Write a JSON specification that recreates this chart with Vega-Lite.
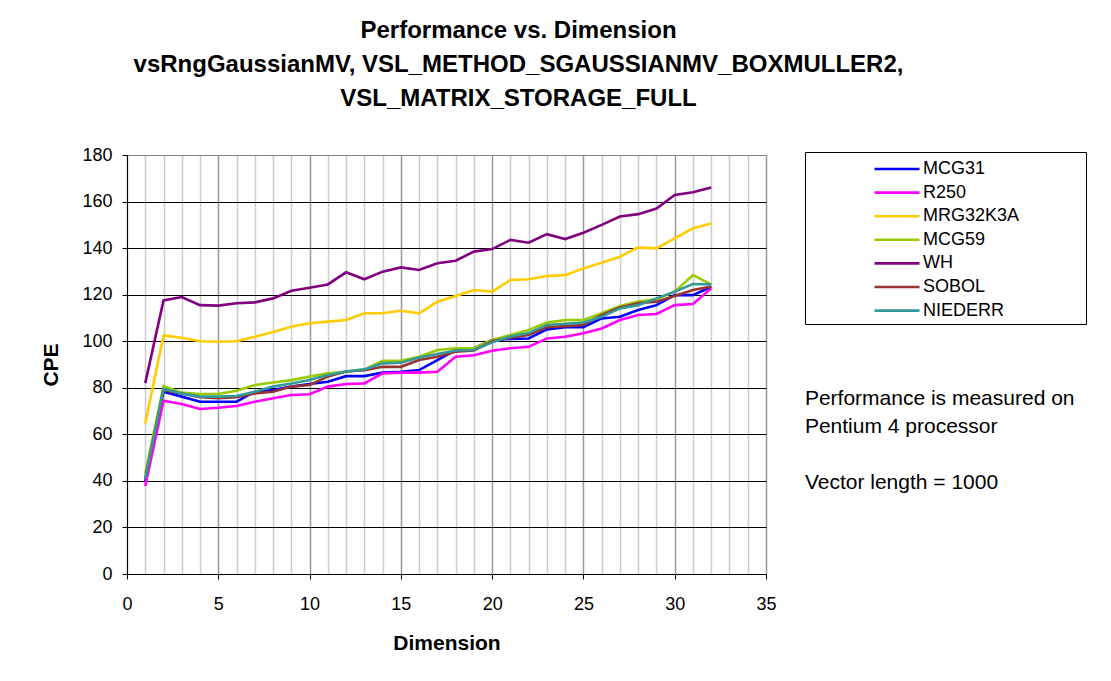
{
  "$schema": "https://vega.github.io/schema/vega-lite/v6.json",
  "width": 639,
  "height": 419,
  "autosize": {"type": "none"},
  "padding": {"left": 127, "top": 155, "right": 345, "bottom": 107},
  "background": "white",
  "title": {
    "text": ["Performance vs. Dimension", "vsRngGaussianMV, VSL_METHOD_SGAUSSIANMV_BOXMULLER2,", "VSL_MATRIX_STORAGE_FULL"],
    "font": "Liberation Sans", "fontSize": 24, "fontWeight": "bold", "lineHeight": 34,
    "anchor": "middle", "dx": 72, "offset": 35, "color": "black"
  },
  "config": {
    "font": "Liberation Sans",
    "view": {"stroke": "#808080", "strokeWidth": 1},
    "legend": {
      "orient": "none", "legendX": 678, "legendY": -3,
      "strokeColor": "black", "fillColor": "white", "padding": 4,
      "symbolType": "M-2,0H2", "symbolSize": 506, "symbolOffset": 75,
      "labelFontSize": 18, "labelOffset": 13, "rowPadding": 1.6, "labelColor": "black",
      "labelFont": "Liberation Sans",
      "titleOrient": "right", "titlePadding": 63, "titleFontSize": 18
    }
  },
  "data": {"values": [
    {"dim": 1, "MCG31": 39.7, "R250": 37.8, "MRG32K3A": 64.7, "MCG59": 43.2, "WH": 82, "SOBOL": 41, "NIEDERR": 41},
    {"dim": 2, "MCG31": 78.3, "R250": 74.4, "MRG32K3A": 102.5, "MCG59": 80.8, "WH": 117.5, "SOBOL": 79, "NIEDERR": 79.5},
    {"dim": 3, "MCG31": 76.2, "R250": 73, "MRG32K3A": 101.5, "MCG59": 77.9, "WH": 119, "SOBOL": 77.5, "NIEDERR": 77.5},
    {"dim": 4, "MCG31": 74, "R250": 70.9, "MRG32K3A": 100, "MCG59": 77.3, "WH": 115.5, "SOBOL": 76, "NIEDERR": 76.2},
    {"dim": 5, "MCG31": 74, "R250": 71.4, "MRG32K3A": 99.8, "MCG59": 77.3, "WH": 115.3, "SOBOL": 75.5, "NIEDERR": 76.2},
    {"dim": 6, "MCG31": 74, "R250": 72.2, "MRG32K3A": 100, "MCG59": 78.7, "WH": 116.3, "SOBOL": 76, "NIEDERR": 76.5},
    {"dim": 7, "MCG31": 78.3, "R250": 74, "MRG32K3A": 101.9, "MCG59": 81.2, "WH": 116.7, "SOBOL": 77.6, "NIEDERR": 78.3},
    {"dim": 8, "MCG31": 79, "R250": 75.5, "MRG32K3A": 104, "MCG59": 82.3, "WH": 118.4, "SOBOL": 78.3, "NIEDERR": 80.5},
    {"dim": 9, "MCG31": 80.5, "R250": 76.9, "MRG32K3A": 106.2, "MCG59": 83.3, "WH": 121.7, "SOBOL": 80.5, "NIEDERR": 81.8},
    {"dim": 10, "MCG31": 81.6, "R250": 77.2, "MRG32K3A": 107.7, "MCG59": 84.8, "WH": 123, "SOBOL": 81.2, "NIEDERR": 83.3},
    {"dim": 11, "MCG31": 82.6, "R250": 80.5, "MRG32K3A": 108.4, "MCG59": 86.2, "WH": 124.4, "SOBOL": 84.8, "NIEDERR": 85.5},
    {"dim": 12, "MCG31": 85, "R250": 81.6, "MRG32K3A": 109.1, "MCG59": 86.9, "WH": 129.6, "SOBOL": 87, "NIEDERR": 87},
    {"dim": 13, "MCG31": 85, "R250": 81.9, "MRG32K3A": 112, "MCG59": 87.9, "WH": 126.6, "SOBOL": 87.5, "NIEDERR": 87.9},
    {"dim": 14, "MCG31": 86.5, "R250": 86.2, "MRG32K3A": 112, "MCG59": 91.6, "WH": 129.9, "SOBOL": 89, "NIEDERR": 90.5},
    {"dim": 15, "MCG31": 86.9, "R250": 86.5, "MRG32K3A": 113.1, "MCG59": 91.6, "WH": 131.7, "SOBOL": 89, "NIEDERR": 90.8},
    {"dim": 16, "MCG31": 87.6, "R250": 86.5, "MRG32K3A": 112, "MCG59": 93.3, "WH": 130.6, "SOBOL": 91.9, "NIEDERR": 93},
    {"dim": 17, "MCG31": 91.9, "R250": 86.9, "MRG32K3A": 117, "MCG59": 96.2, "WH": 133.5, "SOBOL": 93.3, "NIEDERR": 94.5},
    {"dim": 18, "MCG31": 96.2, "R250": 93.3, "MRG32K3A": 119.4, "MCG59": 97, "WH": 134.6, "SOBOL": 95.5, "NIEDERR": 96},
    {"dim": 19, "MCG31": 97, "R250": 94, "MRG32K3A": 122, "MCG59": 97, "WH": 138.5, "SOBOL": 96, "NIEDERR": 96.2},
    {"dim": 20, "MCG31": 100.5, "R250": 95.9, "MRG32K3A": 121.3, "MCG59": 100.5, "WH": 139.6, "SOBOL": 100, "NIEDERR": 99.5},
    {"dim": 21, "MCG31": 101, "R250": 97, "MRG32K3A": 126.3, "MCG59": 102.7, "WH": 143.5, "SOBOL": 101.5, "NIEDERR": 102},
    {"dim": 22, "MCG31": 101.2, "R250": 97.6, "MRG32K3A": 126.6, "MCG59": 104.8, "WH": 142.3, "SOBOL": 102.7, "NIEDERR": 103.5},
    {"dim": 23, "MCG31": 105.1, "R250": 101.2, "MRG32K3A": 128, "MCG59": 108, "WH": 146, "SOBOL": 106, "NIEDERR": 107},
    {"dim": 24, "MCG31": 106, "R250": 101.9, "MRG32K3A": 128.4, "MCG59": 109.1, "WH": 143.9, "SOBOL": 106.5, "NIEDERR": 107.5},
    {"dim": 25, "MCG31": 106, "R250": 103.4, "MRG32K3A": 131.3, "MCG59": 109.1, "WH": 146.6, "SOBOL": 107, "NIEDERR": 108},
    {"dim": 26, "MCG31": 109.8, "R250": 105.5, "MRG32K3A": 133.7, "MCG59": 112, "WH": 150, "SOBOL": 111.3, "NIEDERR": 110.5},
    {"dim": 27, "MCG31": 110.5, "R250": 109.1, "MRG32K3A": 136.3, "MCG59": 115.1, "WH": 153.6, "SOBOL": 114.5, "NIEDERR": 114.1},
    {"dim": 28, "MCG31": 113.4, "R250": 111.3, "MRG32K3A": 140.3, "MCG59": 117, "WH": 154.6, "SOBOL": 116.3, "NIEDERR": 115.5},
    {"dim": 29, "MCG31": 115.5, "R250": 111.7, "MRG32K3A": 139.9, "MCG59": 118, "WH": 157, "SOBOL": 117, "NIEDERR": 118.4},
    {"dim": 30, "MCG31": 119.8, "R250": 115.5, "MRG32K3A": 144.2, "MCG59": 121.3, "WH": 162.8, "SOBOL": 119.4, "NIEDERR": 121.3},
    {"dim": 31, "MCG31": 119.8, "R250": 116, "MRG32K3A": 148.5, "MCG59": 128.4, "WH": 164, "SOBOL": 122, "NIEDERR": 124.6},
    {"dim": 32, "MCG31": 123.4, "R250": 122.7, "MRG32K3A": 150.6, "MCG59": 124.4, "WH": 166, "SOBOL": 123.5, "NIEDERR": 124.5}
  ]},
  "layer": [
    {
      "transform": [{"fold": ["MCG31", "R250", "MRG32K3A", "MCG59", "WH", "SOBOL", "NIEDERR"], "as": ["series", "cpe"]}],
      "mark": {"type": "line", "interpolate": "linear"},
      "encoding": {
        "x": {
          "field": "dim", "type": "quantitative",
          "scale": {"domain": [0, 35], "nice": false},
          "axis": {
            "values": [0,1,2,3,4,5,6,7,8,9,10,11,12,13,14,15,16,17,18,19,20,21,22,23,24,25,26,27,28,29,30,31,32,33,34,35],
            "tickCount": 40,
            "grid": true,
            "gridColor": {"condition": {"test": "datum.value % 5 === 0", "value": "#999999"}, "value": "#cccccc"},
            "gridWidth": 1.5,
            "tickOpacity": {"condition": {"test": "datum.value % 5 === 0", "value": 1}, "value": 0},
            "labelExpr": "datum.value % 5 === 0 ? datum.label : ''",
            "labelOverlap": false, "labelFlush": false,
            "title": "Dimension", "titleFontSize": 21, "titleFontWeight": "bold", "titleColor": "black",
            "labelFontSize": 18, "labelColor": "black", "labelPadding": 16, "titlePadding": 19,
            "tickSize": 5, "tickColor": "black", "domainColor": "black"
          }
        },
        "y": {
          "field": "cpe", "type": "quantitative",
          "scale": {"domain": [0, 180], "nice": false},
          "axis": {
            "values": [0,20,40,60,80,100,120,140,160,180],
            "grid": true,
            "gridColor": {"condition": {"test": "datum.value === 180", "value": "#808080"}, "value": "#000000"},
            "title": "CPE", "titleFontSize": 21, "titleFontWeight": "bold", "titleColor": "black",
            "labelFontSize": 18, "labelColor": "black", "labelPadding": 10, "titlePadding": 20,
            "tickSize": 5, "tickColor": "black", "domainColor": "black"
          }
        },
        "color": {
          "field": "series", "type": "nominal",
          "scale": {
            "domain": ["MCG31", "R250", "MRG32K3A", "MCG59", "WH", "SOBOL", "NIEDERR"],
            "range": ["#0000FF", "#FF00FF", "#FFCC00", "#99CC00", "#800080", "#993333", "#339999"]
          },
          "legend": {"title": "\u00a0"}
        },
        "strokeWidth": {
          "field": "series", "type": "ordinal",
          "scale": {
            "domain": ["MCG31", "R250", "MRG32K3A", "MCG59", "WH", "SOBOL", "NIEDERR"],
            "range": [2.6, 2.6, 2.6, 2.6, 2.6, 1.2, 1.2]
          },
          "legend": {"title": "\u00a0"}
        }
      }
    },
    {
      "data": {"values": [{"note": "Performance is measured on\nPentium 4 processor"}]},
      "mark": {"type": "text", "align": "left", "baseline": "top", "fontSize": 21, "lineHeight": 28, "lineBreak": "\n", "color": "black", "font": "Liberation Sans"},
      "encoding": {
        "x": {"datum": 37.13, "type": "quantitative"},
        "y": {"datum": 80, "type": "quantitative"},
        "text": {"field": "note", "type": "nominal"}
      }
    },
    {
      "data": {"values": [{"note": "Vector length = 1000"}]},
      "mark": {"type": "text", "align": "left", "baseline": "top", "fontSize": 21, "color": "black", "font": "Liberation Sans"},
      "encoding": {
        "x": {"datum": 37.13, "type": "quantitative"},
        "y": {"datum": 43.8, "type": "quantitative"},
        "text": {"field": "note", "type": "nominal"}
      }
    }
  ]
}
